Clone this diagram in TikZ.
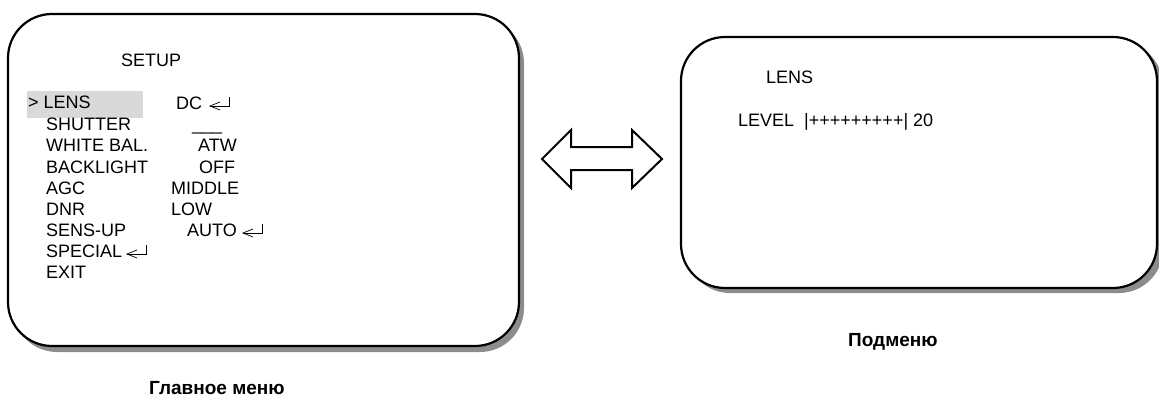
\documentclass[tikz,border=0pt]{standalone}
\usepackage{fontspec}
\setmainfont{Liberation Sans}
\definecolor{shade}{RGB}{140,140,140}
\definecolor{hilite}{RGB}{217,217,217}
\begin{document}
\begin{tikzpicture}[x=1pt,y=-1pt,
  txt/.style={anchor=base west, inner sep=0pt, font=\fontsize{18}{21}\selectfont},
  captxt/.style={anchor=base west, inner sep=0pt, font=\fontsize{19}{22}\selectfont\bfseries},
  screen/.style={draw=black, line width=2.2pt, fill=white, rounded corners=44pt},
  screenshadow/.style={fill=shade, rounded corners=44pt},
  retsym/.pic={\draw[line width=0.7pt] (10,-7)--(0,-3)--(10,1);
               \draw[line width=0.7pt] (0,-3)--(19,-3)--(19,-12);},
  bigarrow/.style={draw=black, line width=2pt, fill=white, line join=miter}]
\path[use as bounding box] (0,0) rectangle (1159,402);

% left screen
\fill[screenshadow] (13,19) rectangle (524,352);
\draw[screen] (8,14) rectangle (519,346);
% right screen
\fill[screenshadow] (686,42) rectangle (1163,293);
\draw[screen] (681,37) rectangle (1157,288);

% highlight
\fill[hilite] (27,91) rectangle (143,118);

% main menu texts
\node[txt] (setup) at (121,66) {SETUP};
\node[txt] (lens) at (28,108) {> LENS};
\node[txt] (dc) at (176,109) {DC};
\pic at (210,109) {retsym};
\node[txt] (shutter) at (46,130) {SHUTTER};
\node[txt] (shutterval) at (192,130) {\_\_\_};
\node[txt] (wb) at (46,151) {WHITE BAL.};
\node[txt] (atw) at (198,151) {ATW};
\node[txt] (bl) at (46,173) {BACKLIGHT};
\node[txt] (off) at (199,173) {OFF};
\node[txt] (agc) at (46,194) {AGC};
\node[txt] (middle) at (171,194) {MIDDLE};
\node[txt] (dnr) at (46,215) {DNR};
\node[txt] (low) at (171,215) {LOW};
\node[txt] (sens) at (46,236) {SENS-UP};
\node[txt] (auto) at (187,236) {AUTO};
\pic at (243,236) {retsym};
\node[txt] (special) at (46,257) {SPECIAL};
\pic at (127,257) {retsym};
\node[txt] (exit) at (46,278) {EXIT};

% submenu texts
\node[txt] (lens2) at (766,83) {LENS};
\node[txt] (level) at (738,126) {LEVEL\ \ |+++++++++| 20};

% double arrow
\draw[bigarrow] (542,159) -- (571,130) -- (571,147) -- (632,147) -- (632,130)
  -- (662,159) -- (632,188) -- (632,170) -- (571,170) -- (571,188) -- cycle;

% captions
\node[captxt] (cap1) at (149,394) {Главное меню};
\node[captxt] (cap2) at (848,346) {Подменю};
\end{tikzpicture}
\end{document}
